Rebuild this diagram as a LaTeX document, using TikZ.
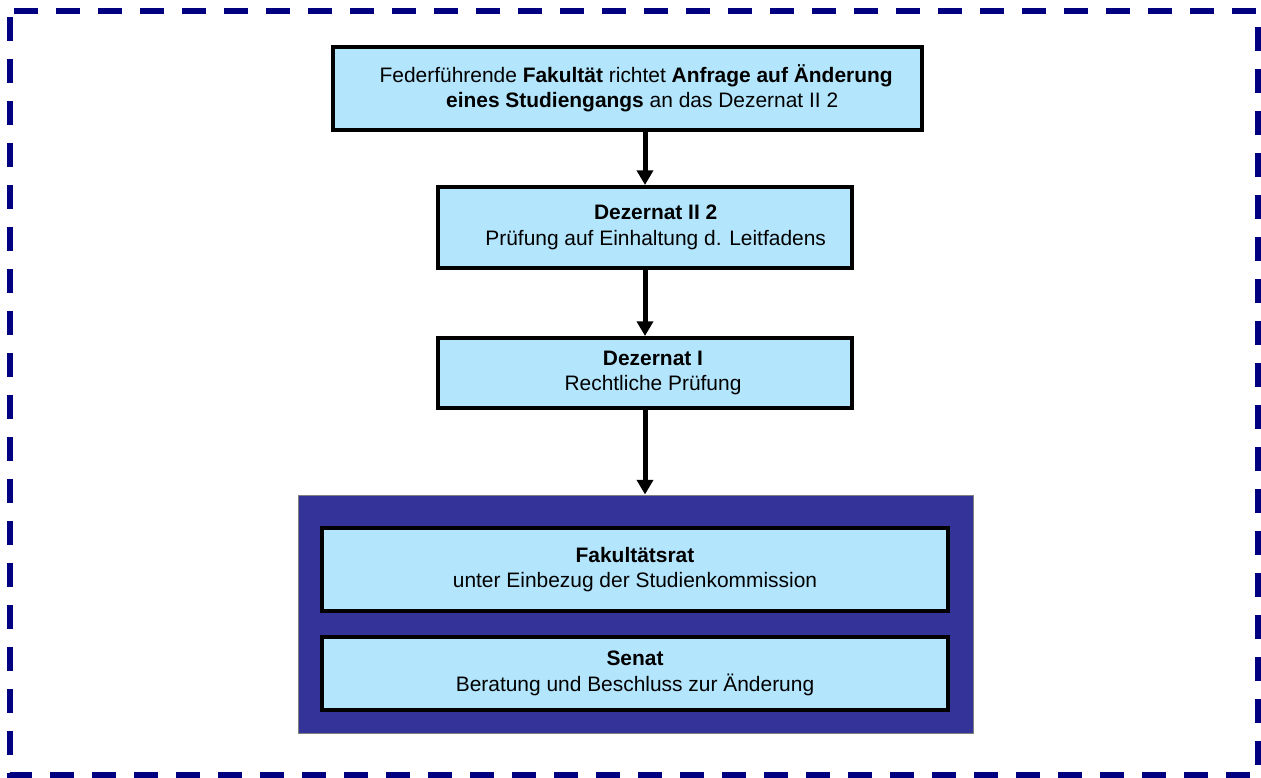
\documentclass[tikz,border=0pt]{standalone}
\usepackage{fontspec}
\setmainfont{Liberation Sans}
\usetikzlibrary{arrows.meta}
\definecolor{stepblue}{RGB}{179,229,252}
\definecolor{panelblue}{RGB}{51,51,153}
\definecolor{framenavy}{RGB}{0,0,128}
\newcommand{\nudge}[1]{\hspace*{#1}}
\begin{document}
\begin{tikzpicture}[x=0.75pt,y=-0.75pt]
	\tikzstyle{every node}+=[inner sep=0pt, font=\fontsize{15.7}{19}\selectfont, align=center]
	\tikzstyle{stepbox}=[draw=black, line width=3pt, fill=stepblue]
	\tikzstyle{flow}=[line width=3.75pt, -{Triangle[length=11pt,width=12pt]}]
	\useasboundingbox (0,0) rectangle (1261,778);
	% outer frame
	\draw [framenavy, line width=4.5pt, dash pattern=on 18pt off 13.5pt, dash phase=27pt] (10,11) rectangle (1258,775);
	% steps
	\node [stepbox, minimum width=441.75pt, minimum height=62.25pt] (antrag) at (627.5,88.5)
		{\nudge{13pt}Federführende \textbf{Fakultät} richtet \textbf{Anfrage auf Änderung}\\ \nudge{22pt}\textbf{eines Studiengangs} an das Dezernat II 2};
	\node [stepbox, minimum width=310.5pt, minimum height=60.75pt] (dezII) at (645,227.5)
		{\nudge{16pt}\textbf{Dezernat II 2}\\ \nudge{16pt}Prüfung auf Einhaltung d. Leitfadens};
	\node [stepbox, minimum width=310.5pt, minimum height=52.5pt] (dezI) at (645,373)
		{\nudge{12pt}\textbf{Dezernat I}\\ \nudge{12pt}Rechtliche Prüfung};
	\node [draw=gray, line width=0.75pt, fill=panelblue, minimum width=506.25pt, minimum height=178.5pt] (gremien) at (635.5,614) {};
	\node [stepbox, minimum width=469.5pt, minimum height=62.25pt] (fakrat) at (635,569.5)
		{\textbf{Fakultätsrat}\\ unter Einbezug der Studienkommission};
	\node [stepbox, minimum width=469.5pt, minimum height=54.75pt] (senat) at (635,673.5)
		{\textbf{Senat}\\ Beratung und Beschluss zur Änderung};
	% arrows
	\draw [flow] (antrag.south -| dezII.north) -- (dezII.north);
	\draw [flow] (dezII.south) -- (dezI.north);
	\draw [flow] (dezI.south) -- (dezI.south |- gremien.north);
\end{tikzpicture}
\end{document}
